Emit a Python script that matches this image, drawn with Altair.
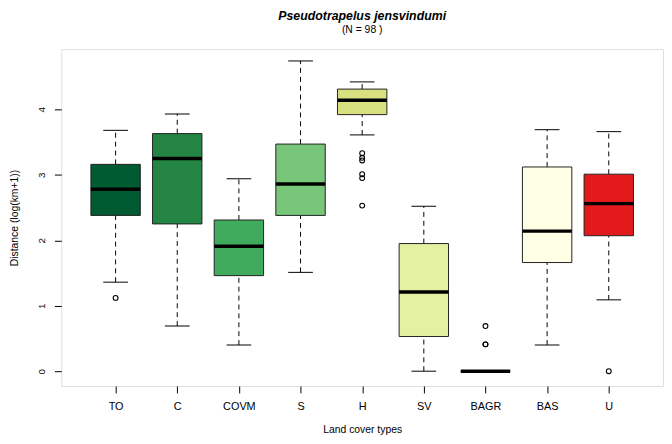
import altair as alt
import pandas as pd

cats = ["TO", "C", "COVM", "S", "H", "SV", "BAGR", "BAS", "U"]
colors = ["#005A32", "#238443", "#41AB5D", "#78C679", "#D9E07F", "#E4F0A2", "#E4F0A2", "#FFFFE5", "#E31A1C"]
whisk_lo = [1.36, 0.69, 0.40, 1.51, 3.61, 0.00, 0.00, 0.40, 1.09]
q1 = [2.38, 2.25, 1.46, 2.38, 3.92, 0.53, 0.00, 1.66, 2.07]
med = [2.78, 3.25, 1.91, 2.86, 4.14, 1.21, 0.00, 2.14, 2.56]
q3 = [3.16, 3.63, 2.31, 3.47, 4.31, 1.95, 0.00, 3.12, 3.01]
whisk_hi = [3.68, 3.93, 2.94, 4.74, 4.42, 2.52, 0.00, 3.69, 3.66]
out_cat = ["TO", "H", "H", "H", "H", "H", "H", "BAGR", "BAGR", "BAGR", "U"]
out_val = [1.12, 3.33, 3.26, 3.22, 3.01, 2.95, 2.53, 0.69, 0.41, 0.41, 0.00]

box = pd.DataFrame({"cat": cats, "lo": whisk_lo, "q1": q1, "med": med, "q3": q3, "hi": whisk_hi})
outs = pd.DataFrame({"cat": out_cat, "val": out_val})

FONT = "Liberation Sans"
xscale = alt.Scale(type="point", domain=cats, padding=0.88)
yscale = alt.Scale(domain=[-0.2264, 4.921], nice=False, zero=False)

X = alt.X("cat:N", scale=xscale, sort=cats,
          axis=alt.Axis(title="Land cover types", domain=False, ticks=True, tickSize=7,
                        tickColor="black", labelAngle=0, labelFontSize=11, labelPadding=8,
                        labelColor="black", titleFontSize=10.5, titleFontWeight="normal",
                        titleColor="black", titlePadding=13, grid=False, labelFont=FONT,
                        titleFont=FONT))
Y_axis = alt.Axis(title="Distance (log(km+1))", values=[0, 1, 2, 3, 4], format="d",
                  domain=False, tickSize=7,
                  tickColor="black", labelAngle=270, labelAlign="center", labelBaseline="bottom",
                  labelFontSize=10, labelPadding=8, labelColor="black", grid=False,
                  titleFontSize=10.5, titleFontWeight="normal", titleColor="black",
                  titlePadding=17, labelFont=FONT, titleFont=FONT)

base = alt.Chart(box)
XP = alt.X("cat:N", scale=xscale, sort=cats)

whiskers_lo = base.mark_rule(color="black", strokeWidth=1, strokeDash=[5, 4]).encode(
    x=X, y=alt.Y("lo:Q", scale=yscale, axis=Y_axis), y2="q1:Q")
whiskers_hi = base.mark_rule(color="black", strokeWidth=1, strokeDash=[5, 4]).encode(
    x=XP, y=alt.Y("q3:Q", scale=yscale), y2="hi:Q")
cap_lo = base.mark_tick(color="black", size=25, thickness=1, opacity=1).encode(
    x=XP, y=alt.Y("lo:Q", scale=yscale))
cap_hi = base.mark_tick(color="black", size=25, thickness=1, opacity=1).encode(
    x=XP, y=alt.Y("hi:Q", scale=yscale))
boxes = base.mark_bar(size=50, stroke="#222222", strokeWidth=1, opacity=1).encode(
    x=XP, y=alt.Y("q1:Q", scale=yscale), y2="q3:Q",
    fill=alt.Fill("cat:N", scale=alt.Scale(domain=cats, range=colors), legend=None))
medians = base.mark_tick(color="black", size=50, thickness=3.5, opacity=1).encode(
    x=XP, y=alt.Y("med:Q", scale=yscale))
points = alt.Chart(outs).mark_point(shape="circle", filled=False, color="black", size=24,
                                     strokeWidth=1.1, opacity=1).encode(
    x=XP, y=alt.Y("val:Q", scale=yscale))

chart = alt.layer(whiskers_lo, whiskers_hi, cap_lo, cap_hi, boxes, medians, points).properties(
    width=609, height=341,
    autosize=alt.AutoSizeParams(type="none"),
    padding={"left": 54, "top": 39, "right": 1, "bottom": 48},
    title=alt.TitleParams(text="Pseudotrapelus jensvindumi", subtitle="(N = 98 )",
                          font=FONT, fontSize=12.5, fontStyle="italic", fontWeight="bold",
                          color="black", subtitleFont=FONT, subtitleFontSize=10.5,
                          subtitleColor="black", subtitlePadding=2, anchor="middle", offset=14),
).configure_view(stroke="black", strokeWidth=1).configure(background="white")

chart.save("out.html", embed_options={"renderer": "svg", "actions": False})
